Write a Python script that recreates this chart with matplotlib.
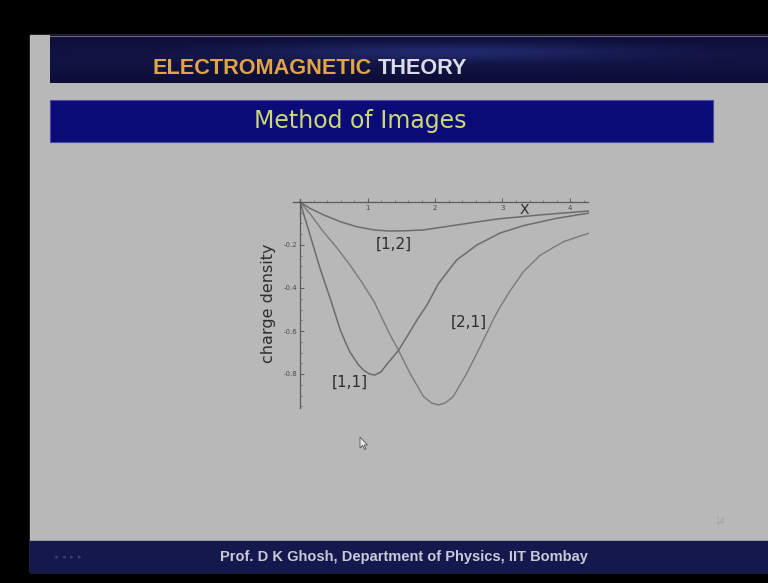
import numpy as np
import matplotlib
matplotlib.use("Agg")
import matplotlib.pyplot as plt
from matplotlib.patches import Rectangle, Polygon
from matplotlib.ticker import MultipleLocator, FixedLocator

# Surface charge density on the grounded plane for three charge positions [a,b]
x_11 = [0.0, 0.148, 0.296, 0.47, 0.593, 0.67, 0.74, 0.86, 0.94, 1.03, 1.11, 1.2, 1.28,
        1.46, 1.63, 1.75, 1.88, 2.05, 2.32, 2.62, 2.96, 3.31, 3.80, 4.27]
y_11 = [0.0, -0.153, -0.308, -0.47, -0.592, -0.65, -0.698, -0.755, -0.782, -0.80, -0.805,
        -0.79, -0.758, -0.69, -0.603, -0.54, -0.48, -0.38, -0.27, -0.20, -0.145,
        -0.11, -0.076, -0.052]

x_21 = [0.0, 0.15, 0.345, 0.54, 0.74, 0.92, 1.1, 1.33, 1.46, 1.63, 1.83, 1.95, 2.05,
        2.15, 2.27, 2.47, 2.67, 2.86, 2.96, 3.12, 3.31, 3.56, 3.90, 4.27]
y_21 = [0.0, -0.055, -0.138, -0.21, -0.293, -0.375, -0.465, -0.615, -0.69, -0.797,
        -0.905, -0.935, -0.944, -0.935, -0.905, -0.797, -0.673, -0.549, -0.49, -0.41,
        -0.324, -0.247, -0.185, -0.146]

x_12 = [0.0, 0.15, 0.35, 0.6, 0.84, 1.1, 1.33, 1.55, 1.83, 2.32, 2.81, 2.96, 3.56, 4.27]
y_12 = [0.0, -0.03, -0.06, -0.092, -0.115, -0.13, -0.135, -0.134, -0.13, -0.107,
        -0.084, -0.078, -0.06, -0.042]

curve_labels = ["[1,1]", "[2,1]", "[1,2]"]
x_ticks = [1, 2, 3, 4]
y_ticks = [-0.8, -0.6, -0.4, -0.2]
y_tick_labels = ["-0.8", "-0.6", "-0.4", "-0.2"]

W, H = 768, 583
fig = plt.figure(figsize=(W / 100, H / 100), dpi=100)
fig.patch.set_facecolor("black")

# Slide canvas in pixel units
bg = fig.add_axes([0, 0, 1, 1])
bg.set_xlim(0, W)
bg.set_ylim(H, 0)
bg.axis("off")

slide_gray = "#b8b8b8"
bg.add_patch(Rectangle((30, 35), W - 30, 537, color=slide_gray, zorder=0))

# Header band with a soft horizontal streak
hh, hw = 48, 718
yy = np.linspace(0, 1, hh)[:, None]
xx = np.linspace(0, 1, hw)[None, :]
streak = np.exp(-((yy - 0.35) / 0.18) ** 2) * np.exp(-((xx - 0.55) / 0.25) ** 2)
base = np.array([0.03, 0.03, 0.17])
light = np.array([0.13, 0.16, 0.42])
img = base[None, None, :] + (light - base)[None, None, :] * (0.35 * np.exp(-((yy - 0.5) / 0.6) ** 2) + 0.7 * streak)[:, :, None]
bg.imshow(np.clip(img, 0, 1), extent=(50, 768, 83, 35), aspect="auto", zorder=1, interpolation="bilinear")
bg.plot([50, 768], [35.5, 35.5], color="#6a6a7a", lw=0.8, zorder=2)

head_font = ["Liberation Sans", "DejaVu Sans"]
t1 = bg.text(152, 68, "ELECTROMAGNETIC", color="#e3a448", fontsize=19, fontweight="bold",
             family=head_font, va="center", ha="left", zorder=3)
t2 = bg.text(0, 68, "THEORY", color="#dcdce6", fontsize=19, fontweight="bold",
             family=head_font, va="center", ha="left", zorder=3)
fig.canvas.draw()
r = fig.canvas.get_renderer()
w1 = t1.get_window_extent(r).width
w2 = t2.get_window_extent(r).width
scale = (465 - 152 - 6) / (w1 + w2)
t1.set_fontsize(19 * scale)
t2.set_fontsize(19 * scale)
fig.canvas.draw()
t2.set_x(t1.get_window_extent(r).x1 + 6)

# Title box
bg.add_patch(Rectangle((50, 100), 663, 42, facecolor="#0b0b78", edgecolor="#4a4aa8", lw=0.8, zorder=1))
bg.text(360, 121, "Method of Images", color="#ccd776", fontsize=17, va="center", ha="center",
        family="DejaVu Sans", zorder=3)

# Footer
bg.add_patch(Rectangle((30, 541), W - 30, 31, color="#14184c", zorder=1))
bg.text(404, 557, "Prof. D K Ghosh, Department of Physics, IIT Bombay", color="#c9cad8",
        fontsize=10.5, fontweight="bold", family="Liberation Sans", va="center", ha="center", zorder=3)
bg.text(68, 557, "\u25c2  \u25c2  \u25b8  \u25b8", color="#3c4278", fontsize=5, va="center", ha="center", zorder=3)
bg.text(720, 522, "14", color="#a0a0ac", fontsize=5.5, va="center", ha="center", zorder=3)

# Mouse pointer
bg.add_patch(Polygon([[360, 437], [360, 448], [362.5, 445.5], [364.5, 449.5], [366, 448.8],
                      [364, 445], [367.5, 445]], closed=True, facecolor="#e8e8e8",
                     edgecolor="#555555", lw=0.6, zorder=5))

# Plot axes
px_per_x = 67.5
px_per_y = 215.0
x0_px, y0_px = 300.0, 202.0
xmin, xmax = -0.1, 4.27
ymin, ymax = -0.958, 0.012
left_px = x0_px + xmin * px_per_x
right_px = x0_px + xmax * px_per_x
top_px = y0_px - ymax * px_per_y
bot_px = y0_px - ymin * px_per_y
ax = fig.add_axes([left_px / W, (H - bot_px) / H, (right_px - left_px) / W, (bot_px - top_px) / H])
ax.set_xlim(xmin, xmax)
ax.set_ylim(ymin, ymax)
ax.patch.set_alpha(0)

axis_col = "#5a5a5a"
ax.spines["left"].set_position(("data", 0))
ax.spines["bottom"].set_position(("data", 0))
ax.spines["top"].set_visible(False)
ax.spines["right"].set_visible(False)
for s in ("left", "bottom"):
    ax.spines[s].set_color(axis_col)
    ax.spines[s].set_linewidth(0.9)

ax.xaxis.set_major_locator(FixedLocator(x_ticks))
ax.xaxis.set_minor_locator(MultipleLocator(0.2))
ax.yaxis.set_major_locator(FixedLocator(y_ticks))
ax.set_yticklabels(y_tick_labels)
ax.yaxis.set_minor_locator(MultipleLocator(0.05))
ax.tick_params(which="major", direction="in", length=3, width=0.7, color=axis_col,
               labelsize=5, labelcolor="#4a4a4a", pad=2)
ax.tick_params(which="minor", direction="in", length=1.6, width=0.5, color=axis_col)

line_col = "#6c6c6c"
ax.plot(x_11, y_11, color=line_col, lw=1.1, clip_on=False)
ax.plot(x_21, y_21, color="#7a7a7a", lw=1.0, clip_on=False)
ax.plot(x_12, y_12, color=line_col, lw=1.1, clip_on=False)

lab_kw = dict(fontsize=11, color="#2e2e2e", ha="center", va="center", family="DejaVu Sans")
ax.text(0.74, -0.837, curve_labels[0], **lab_kw)
ax.text(2.50, -0.558, curve_labels[1], **lab_kw)
ax.text(1.39, -0.195, curve_labels[2], **lab_kw)
ax.text(3.32, -0.037, "X", fontsize=10, color="#2a2a2a", ha="center", va="center")

bg.text(268, 303, "charge density", rotation=90, fontsize=11.5, color="#2e2e2e",
        ha="center", va="center", family="DejaVu Sans", zorder=3)

fig.savefig("out.png", dpi=100, facecolor=fig.get_facecolor())
